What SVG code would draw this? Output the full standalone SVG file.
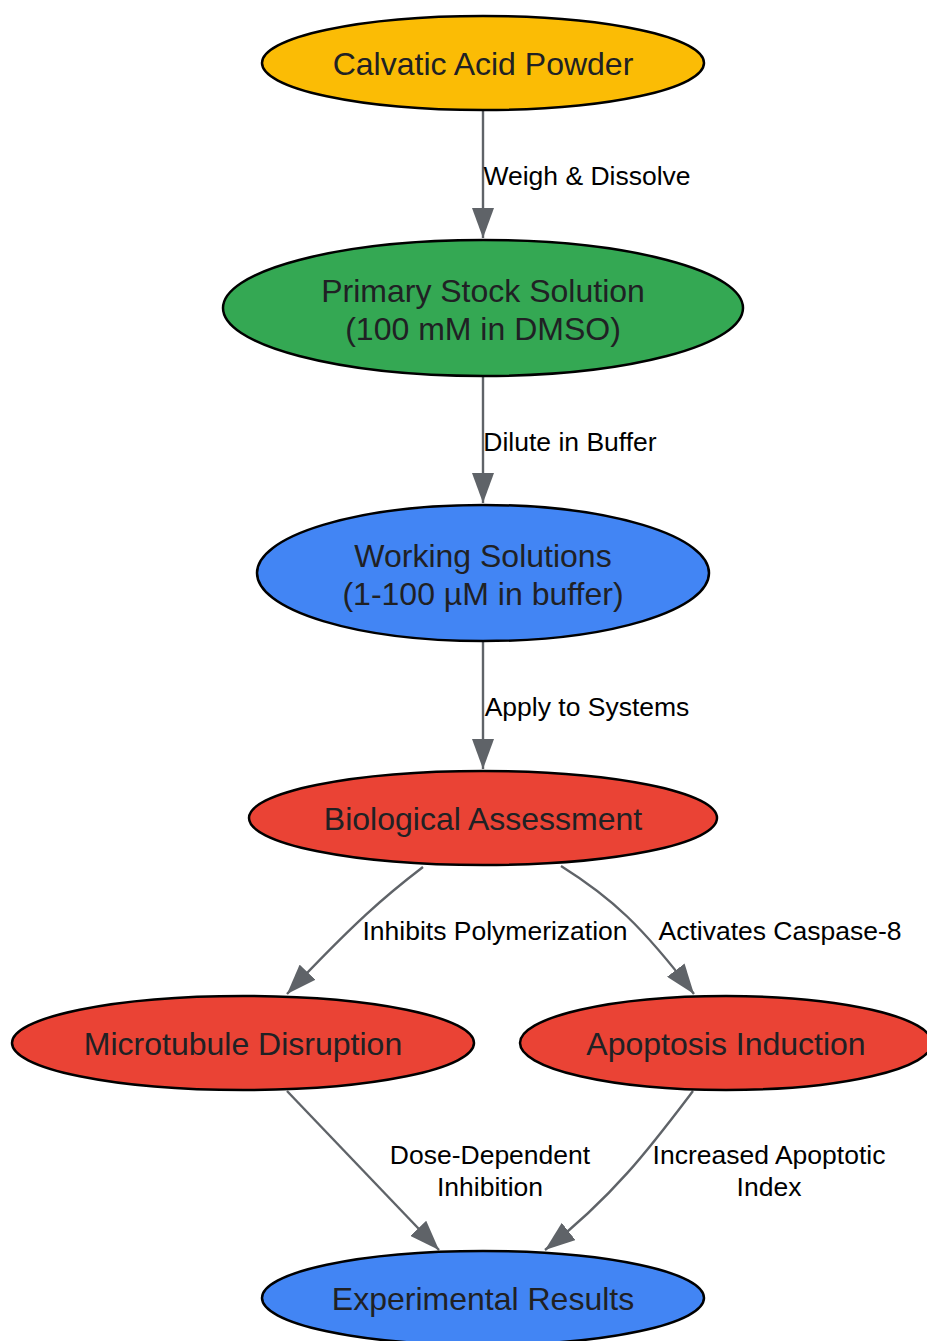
<svg xmlns="http://www.w3.org/2000/svg" width="927" height="1341" viewBox="0 0 927 1341">
<style>
.node ellipse{stroke:#000;stroke-width:2.5}
.nt{font-family:"Liberation Sans",Arial,sans-serif;font-size:32px;fill:#202124;text-anchor:middle}
.el{font-family:"Liberation Sans",Arial,sans-serif;font-size:26.5px;fill:#000;text-anchor:middle}
.edge{fill:none;stroke:#5f6368;stroke-width:2.4}
</style>
<defs>
<marker id="ah" viewBox="0 0 30 22" refX="30" refY="11" markerWidth="30" markerHeight="22" markerUnits="userSpaceOnUse" orient="auto">
<path d="M0,0 L30,11 L0,22 z" fill="#5f6368"/>
</marker>
</defs>
<rect width="927" height="1341" fill="#fff"/>
<g id="connectors">
<path class="edge" d="M483,111 L483,238" marker-end="url(#ah)"/>
<path class="edge" d="M483,377 L483,503" marker-end="url(#ah)"/>
<path class="edge" d="M483,642 L483,769" marker-end="url(#ah)"/>
<path class="edge" d="M423,867 C385,896 355,922 287,994" marker-end="url(#ah)"/>
<path class="edge" d="M561,866 C612,898 642,926 694,994" marker-end="url(#ah)"/>
<path class="edge" d="M287,1091 L439,1250" marker-end="url(#ah)"/>
<path class="edge" d="M693,1091 C652,1145 615,1195 545,1250" marker-end="url(#ah)"/>
<text class="el" x="587" y="185">Weigh &amp; Dissolve</text>
<text class="el" x="570" y="451">Dilute in Buffer</text>
<text class="el" x="587" y="716">Apply to Systems</text>
<text class="el" x="495" y="940">Inhibits Polymerization</text>
<text class="el" x="780" y="940">Activates Caspase-8</text>
<text class="el" x="490" y="1164">Dose-Dependent</text>
<text class="el" x="490" y="1196">Inhibition</text>
<text class="el" x="769" y="1164">Increased Apoptotic</text>
<text class="el" x="769" y="1196">Index</text>
</g>
<g id="powder" class="node">
<ellipse cx="483" cy="63" rx="221" ry="47" fill="#FBBC05"/>
<text class="nt" x="483" y="75">Calvatic Acid Powder</text>
</g>
<g id="stock" class="node">
<ellipse cx="483" cy="308" rx="260" ry="68" fill="#34A853"/>
<text class="nt" x="483" y="302">Primary Stock Solution</text>
<text class="nt" x="483" y="340">(100 mM in DMSO)</text>
</g>
<g id="working" class="node">
<ellipse cx="483" cy="573" rx="226" ry="68" fill="#4285F4"/>
<text class="nt" x="483" y="567">Working Solutions</text>
<text class="nt" x="483" y="605">(1-100 µM in buffer)</text>
</g>
<g id="assessment" class="node">
<ellipse cx="483" cy="818" rx="234" ry="47" fill="#EA4335"/>
<text class="nt" x="483" y="830">Biological Assessment</text>
</g>
<g id="microtubule" class="node">
<ellipse cx="243" cy="1043" rx="231" ry="47" fill="#EA4335"/>
<text class="nt" x="243" y="1055">Microtubule Disruption</text>
</g>
<g id="apoptosis" class="node">
<ellipse cx="726" cy="1043" rx="206" ry="47" fill="#EA4335"/>
<text class="nt" x="726" y="1055">Apoptosis Induction</text>
</g>
<g id="results" class="node">
<ellipse cx="483" cy="1298" rx="221" ry="47" fill="#4285F4"/>
<text class="nt" x="483" y="1310">Experimental Results</text>
</g>
</svg>
